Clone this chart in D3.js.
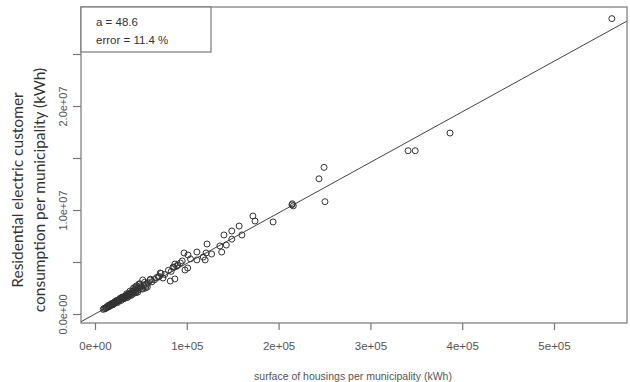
<!DOCTYPE html>
<html>
<head>
<meta charset="utf-8">
<script src="https://cdn.jsdelivr.net/npm/d3@7"></script>
<style>
  body { margin: 0; background: #fff; }
  svg { display: block; }
</style>
</head>
<body>
<div id="chart"></div>
<script>
// surface of housings (x) vs residential consumption (y), per municipality
const surface = [
  563000, 386700, 341000, 348800, 249500, 244000, 250500, 215000, 216000, 214500,
  194000, 172000, 174300, 157000, 149000, 140500, 160000, 149000, 143000, 136000,
  122000, 138000, 127000, 121000, 118000, 120000, 111000, 101300, 97000, 104000,
  111000, 101000, 98000, 87000, 85000, 89000, 87000, 82000, 71000, 69000,
  74000, 60000, 52000, 49000, 57000, 55000,
  9000, 10000, 11000, 12000, 12500, 13000, 14000, 15000, 15500, 16000,
  17000, 18000, 18500, 19000, 20000, 20500, 21000, 22000, 22500, 23000,
  24000, 24500, 25000, 26000, 26500, 27000, 28000, 28500, 29000, 30000,
  30500, 31000, 32000, 33000, 33500, 34000, 35000, 36000, 36500, 37000,
  38000, 39000, 40000, 40500, 41000, 42000, 43000, 44000, 45000, 46000,
  47000, 48000, 50000, 51000, 53000, 45000, 42000, 38000, 48000, 55000,
  58000, 62000, 65000, 67000, 70000, 72000, 76000, 80000, 83000, 86000,
  90000, 93000, 95000,
  14500, 19500, 23500, 27500, 31500, 34500, 39500, 43500, 46500, 49000,
  52000, 54000, 56000, 35500, 29500, 25500, 21500, 17500, 44500, 60500
];
const consumption = [
  28.4e6, 17.4e6, 15.7e6, 15.7e6, 14.1e6, 13.0e6, 10.8e6, 10.6e6, 10.4e6, 10.5e6,
  8.85e6, 9.42e6, 8.94e6, 8.46e6, 7.98e6, 7.6e6, 7.6e6, 7.2e6, 6.63e6, 6.54e6,
  6.73e6, 5.96e6, 5.77e6, 5.87e6, 5.48e6, 5.2e6, 5.96e6, 5.67e6, 5.87e6, 5.3e6,
  5.2e6, 4.42e6, 4.23e6, 4.8e6, 4.5e6, 4.6e6, 3.37e6, 3.17e6, 3.94e6, 3.56e6,
  3.46e6, 3.27e6, 3.27e6, 2.88e6, 2.6e6, 2.5e6,
  0.45e6, 0.55e6, 0.5e6, 0.62e6, 0.58e6, 0.7e6, 0.66e6, 0.78e6, 0.72e6, 0.85e6,
  0.8e6, 0.95e6, 0.88e6, 1.0e6, 1.05e6, 0.95e6, 1.12e6, 1.08e6, 1.2e6, 1.15e6,
  1.25e6, 1.1e6, 1.32e6, 1.28e6, 1.4e6, 1.35e6, 1.45e6, 1.3e6, 1.5e6, 1.55e6,
  1.45e6, 1.65e6, 1.6e6, 1.72e6, 1.55e6, 1.8e6, 1.75e6, 1.9e6, 1.7e6, 1.95e6,
  1.85e6, 2.05e6, 2.0e6, 2.2e6, 1.9e6, 2.15e6, 2.3e6, 2.1e6, 2.4e6, 2.25e6,
  2.5e6, 2.35e6, 2.6e6, 2.45e6, 2.75e6, 2.7e6, 2.5e6, 2.2e6, 2.9e6, 2.85e6,
  3.0e6, 3.1e6, 3.3e6, 3.5e6, 3.6e6, 3.9e6, 3.8e6, 4.2e6, 4.1e6, 4.5e6,
  4.7e6, 4.9e6, 5.1e6,
  0.82e6, 0.9e6, 1.3e6, 1.52e6, 1.48e6, 1.95e6, 1.8e6, 2.55e6, 2.1e6, 2.7e6,
  2.4e6, 3.05e6, 2.75e6, 1.6e6, 1.62e6, 1.22e6, 1.18e6, 0.98e6, 2.05e6, 3.35e6
];
const slopeA = 48.6;
const legendLines = ["a = 48.6", "error = 11.4 %"];
const xTicks = [0, 1e5, 2e5, 3e5, 4e5, 5e5];
const xTickLabels = ["0e+00", "1e+05", "2e+05", "3e+05", "4e+05", "5e+05"];
const yTicks = [0, 5e6, 1e7, 1.5e7, 2e7, 2.5e7];
const yLabelled = { 0: "0.0e+00", 1e7: "1.0e+07", 2e7: "2.0e+07" };

const width = 630, height = 382;
const box = { left: 81, right: 627, top: 7, bottom: 323 };

const svg = d3.select("#chart").append("svg")
  .attr("width", width).attr("height", height);

const x = d3.scaleLinear().domain([-15250, 579500]).range([box.left, box.right]);
const y = d3.scaleLinear().domain([-0.865e6, 29.52e6]).range([box.bottom, box.top]);

const axisColor = "#777";
const textColor = "#555";

svg.append("defs").append("clipPath").attr("id", "clip")
  .append("rect")
  .attr("x", box.left).attr("y", box.top)
  .attr("width", box.right - box.left).attr("height", box.bottom - box.top);

// regression line through origin
svg.append("line")
  .attr("clip-path", "url(#clip)")
  .attr("x1", x(x.domain()[0])).attr("y1", y(slopeA * x.domain()[0]))
  .attr("x2", x(x.domain()[1])).attr("y2", y(slopeA * x.domain()[1]))
  .attr("stroke", "#444").attr("stroke-width", 1);

// points
const pts = surface.map((s, i) => [s, consumption[i]]);
svg.append("g").selectAll("circle")
  .data(pts).enter().append("circle")
  .attr("cx", d => x(d[0])).attr("cy", d => y(d[1]))
  .attr("r", 3)
  .attr("fill", "none")
  .attr("stroke", "#333").attr("stroke-width", 1);

// plot box
svg.append("rect")
  .attr("x", box.left).attr("y", box.top)
  .attr("width", box.right - box.left).attr("height", box.bottom - box.top)
  .attr("fill", "none").attr("stroke", axisColor).attr("stroke-width", 1.2);

// x axis
const xAxis = svg.append("g")
  .attr("transform", `translate(0, ${box.bottom})`)
  .call(d3.axisBottom(x).tickValues(xTicks).tickSize(7).tickPadding(12)
    .tickFormat((d, i) => xTickLabels[i]));
xAxis.select(".domain").remove();
xAxis.selectAll("line").attr("stroke", axisColor).attr("stroke-width", 1.2);
xAxis.selectAll("text").attr("fill", textColor)
  .attr("font-family", "Liberation Sans, Arial, sans-serif").attr("font-size", 11.5);

// y axis
const yAxis = svg.append("g")
  .attr("transform", `translate(${box.left}, 0)`)
  .call(d3.axisLeft(y).tickValues(yTicks).tickSize(8).tickFormat(d => yLabelled[d] || ""));
yAxis.select(".domain").remove();
yAxis.selectAll("line").attr("stroke", axisColor).attr("stroke-width", 1.2);
yAxis.selectAll("text")
  .attr("fill", textColor)
  .attr("font-family", "Liberation Sans, Arial, sans-serif").attr("font-size", 11)
  .attr("text-anchor", "middle")
  .attr("x", null).attr("dy", null)
  .attr("transform", "translate(-14,0) rotate(-90)")
  .attr("y", 0);

// legend
svg.append("rect")
  .attr("x", box.left).attr("y", box.top)
  .attr("width", 130).attr("height", 45)
  .attr("fill", "#fff").attr("stroke", axisColor).attr("stroke-width", 1.2);
svg.append("g").selectAll("text")
  .data(legendLines).enter().append("text")
  .attr("x", 96).attr("y", (d, i) => 26 + i * 18)
  .attr("font-family", "Liberation Sans, Arial, sans-serif").attr("font-size", 11.5)
  .attr("fill", "#333")
  .text(d => d);

// axis titles
svg.append("text")
  .attr("x", 353).attr("y", 380)
  .attr("text-anchor", "middle")
  .attr("font-family", "Liberation Sans, Arial, sans-serif").attr("font-size", 10.5)
  .attr("fill", textColor)
  .text("surface of housings per municipality (kWh)");

const yTitle = svg.append("text")
  .attr("transform", "translate(0,190) rotate(-90)")
  .attr("text-anchor", "middle")
  .attr("font-family", "Lato, sans-serif").attr("font-size", 15.5)
  .attr("fill", "#333");
yTitle.append("tspan").attr("x", 0).attr("y", 23).text("Residential electric customer");
yTitle.append("tspan").attr("x", 0).attr("y", 45).text("consumption per municipality (kWh)");
</script>
</body>
</html>
